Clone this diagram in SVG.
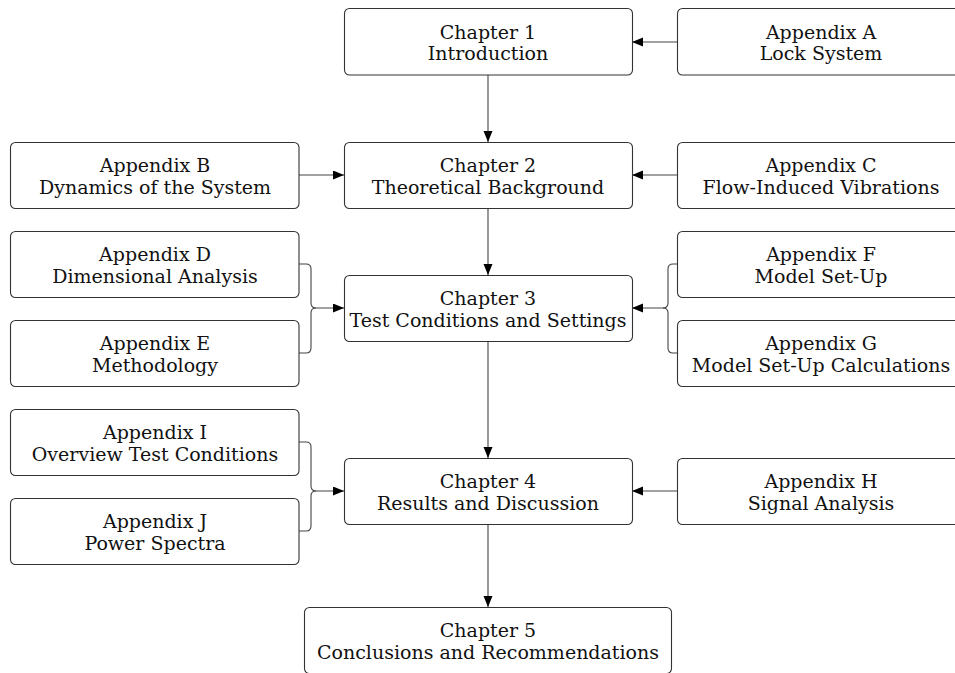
<svg xmlns="http://www.w3.org/2000/svg" width="955" height="673" viewBox="0 0 955 673">
<style>
.box{fill:#fff;stroke:#333;stroke-width:1.1}
.lbl{font-family:"DejaVu Serif","Liberation Serif",serif;font-size:19px;fill:#111;text-anchor:middle}
.edge{fill:none;stroke:#444;stroke-width:1.1}
</style>
<defs>
<marker id="ah" markerUnits="userSpaceOnUse" markerWidth="12" markerHeight="10" refX="11" refY="4.5" orient="auto">
<path d="M0,0 L11,4.5 L0,9 z" fill="#000"/>
</marker>
</defs>
<rect width="955" height="673" fill="#fff"/>
<g id="connectors">
<path class="edge" d="M488,75 V142" marker-end="url(#ah)"/>
<path class="edge" d="M677,42 H632" marker-end="url(#ah)"/>
<path class="edge" d="M299,175 H344" marker-end="url(#ah)"/>
<path class="edge" d="M677,175 H632" marker-end="url(#ah)"/>
<path class="edge" d="M488,208 V275" marker-end="url(#ah)"/>
<path class="edge" d="M299,264 H306 Q311,264 311,269 V303 Q311,308 316,308"/>
<path class="edge" d="M299,353 H306 Q311,353 311,348 V313 Q311,308 316,308 H344" marker-end="url(#ah)"/>
<path class="edge" d="M677,264 H673 Q668,264 668,269 V303 Q668,308 663,308"/>
<path class="edge" d="M677,353 H673 Q668,353 668,348 V313 Q668,308 663,308 H632" marker-end="url(#ah)"/>
<path class="edge" d="M488,341 V458" marker-end="url(#ah)"/>
<path class="edge" d="M299,442 H306 Q311,442 311,447 V486 Q311,491 316,491"/>
<path class="edge" d="M299,531 H306 Q311,531 311,526 V496 Q311,491 316,491 H344" marker-end="url(#ah)"/>
<path class="edge" d="M677,491 H632" marker-end="url(#ah)"/>
<path class="edge" d="M488,524 V607" marker-end="url(#ah)"/>
</g>
<g id="ch1"><rect class="box" x="344.5" y="8.5" width="288" height="66.5" rx="5"/><text class="lbl" x="488" y="38.5">Chapter 1</text><text class="lbl" x="488" y="60">Introduction</text></g>
<g id="appA"><rect class="box" x="677.5" y="8.5" width="290" height="66.5" rx="5"/><text class="lbl" x="821" y="38.5">Appendix A</text><text class="lbl" x="821" y="60">Lock System</text></g>
<g id="appB"><rect class="box" x="10.5" y="142.5" width="288.5" height="66" rx="5"/><text class="lbl" x="155" y="172">Appendix B</text><text class="lbl" x="155" y="193.5">Dynamics of the System</text></g>
<g id="ch2"><rect class="box" x="344.5" y="142.5" width="288" height="66" rx="5"/><text class="lbl" x="488" y="172">Chapter 2</text><text class="lbl" x="488" y="193.5">Theoretical Background</text></g>
<g id="appC"><rect class="box" x="677.5" y="142.5" width="290" height="66" rx="5"/><text class="lbl" x="821" y="172">Appendix C</text><text class="lbl" x="821" y="193.5">Flow-Induced Vibrations</text></g>
<g id="appD"><rect class="box" x="10.5" y="231.5" width="288.5" height="66" rx="5"/><text class="lbl" x="155" y="261">Appendix D</text><text class="lbl" x="155" y="282.5">Dimensional Analysis</text></g>
<g id="appE"><rect class="box" x="10.5" y="320.5" width="288.5" height="66" rx="5"/><text class="lbl" x="155" y="350">Appendix E</text><text class="lbl" x="155" y="371.5">Methodology</text></g>
<g id="ch3"><rect class="box" x="344.5" y="275.5" width="288" height="66" rx="5"/><text class="lbl" x="488" y="305">Chapter 3</text><text class="lbl" x="488" y="326.5">Test Conditions and Settings</text></g>
<g id="appF"><rect class="box" x="677.5" y="231.5" width="290" height="66" rx="5"/><text class="lbl" x="821" y="261">Appendix F</text><text class="lbl" x="821" y="282.5">Model Set-Up</text></g>
<g id="appG"><rect class="box" x="677.5" y="320.5" width="290" height="66" rx="5"/><text class="lbl" x="821" y="350">Appendix G</text><text class="lbl" x="821" y="371.5">Model Set-Up Calculations</text></g>
<g id="appI"><rect class="box" x="10.5" y="409.5" width="288.5" height="66" rx="5"/><text class="lbl" x="155" y="439">Appendix I</text><text class="lbl" x="155" y="460.5">Overview Test Conditions</text></g>
<g id="appJ"><rect class="box" x="10.5" y="498.5" width="288.5" height="66" rx="5"/><text class="lbl" x="155" y="528">Appendix J</text><text class="lbl" x="155" y="549.5">Power Spectra</text></g>
<g id="ch4"><rect class="box" x="344.5" y="458.5" width="288" height="66" rx="5"/><text class="lbl" x="488" y="488">Chapter 4</text><text class="lbl" x="488" y="509.5">Results and Discussion</text></g>
<g id="appH"><rect class="box" x="677.5" y="458.5" width="290" height="66" rx="5"/><text class="lbl" x="821" y="488">Appendix H</text><text class="lbl" x="821" y="509.5">Signal Analysis</text></g>
<g id="ch5"><rect class="box" x="304.5" y="607.5" width="367" height="66" rx="5"/><text class="lbl" x="488" y="637">Chapter 5</text><text class="lbl" x="488" y="658.5">Conclusions and Recommendations</text></g>
</svg>
